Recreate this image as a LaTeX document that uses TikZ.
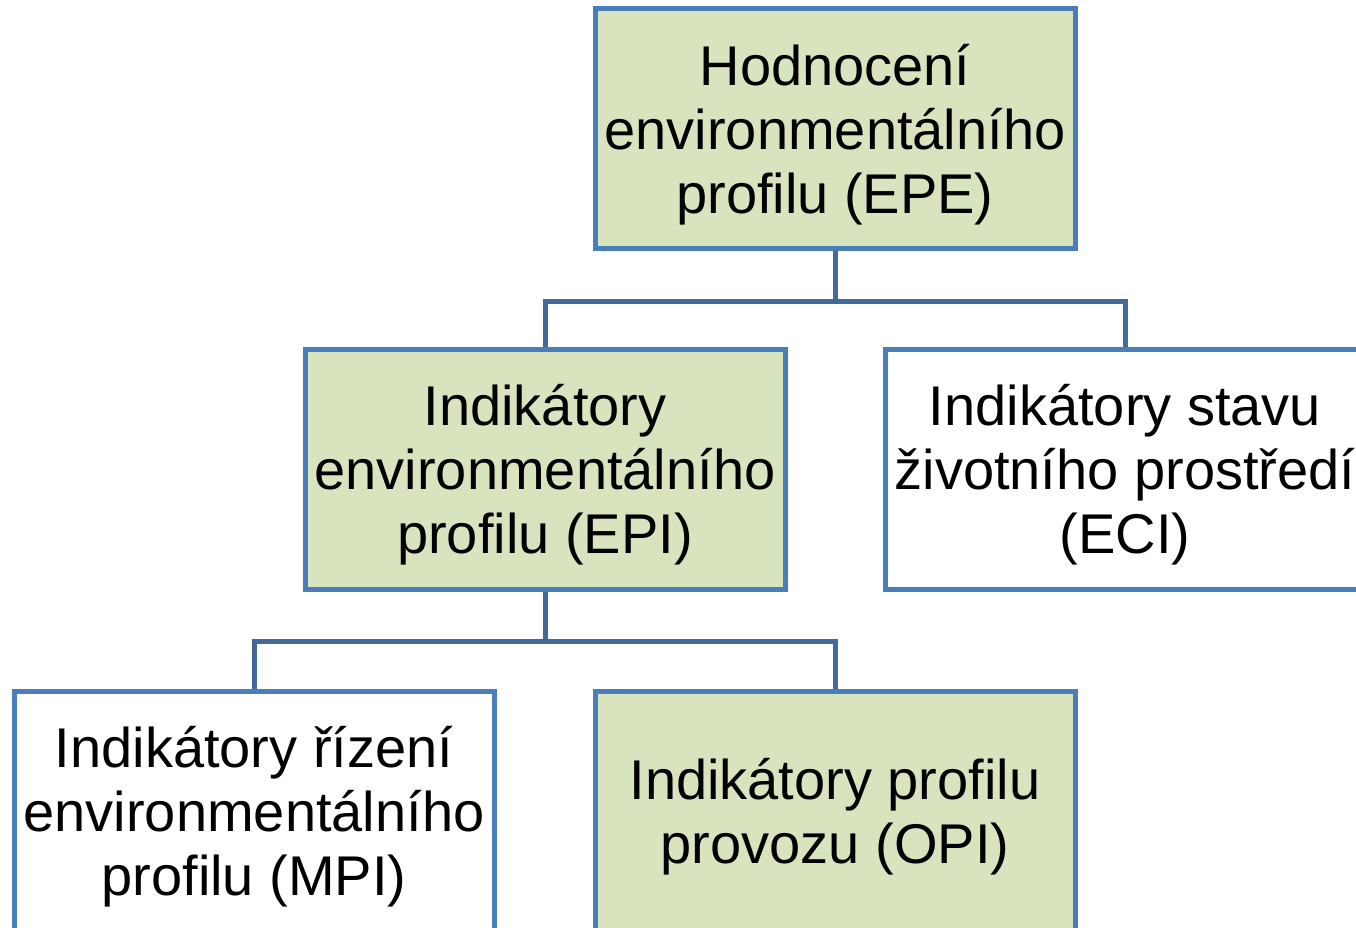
\documentclass[tikz,border=0pt]{standalone}
\usepackage{fontspec}
\setmainfont{Liberation Sans}
\definecolor{boxgreen}{HTML}{D7E4BD}
\definecolor{boxblue}{HTML}{4A7EBB}
\definecolor{connblue}{HTML}{41699A}
\begin{document}
\begin{tikzpicture}[x=1pt,y=-1pt,
  box/.style={draw=boxblue, line width=5pt, minimum width=480pt, minimum height=240pt,
    inner sep=0pt},
  greenbox/.style={box, fill=boxgreen},
  whitebox/.style={box, fill=white},
  txt/.style={inner sep=0pt, align=center, font=\fontsize{56}{64}\selectfont},
  conn/.style={draw=connblue, line width=5pt}]
\useasboundingbox (0,0) rectangle (1356,928);
\node[greenbox] (epe) at (835,128.5) {};
\node[greenbox] (epi) at (545,469) {};
\node[whitebox] (eci) at (1125,469) {};
\node[whitebox] (mpi) at (254,811) {};
\node[greenbox] (opi) at (835,811) {};
\node[txt] (epet) at ([yshift=-6pt]epe.center) {Hodnocení\\environmentálního\\profilu (EPE)};
\node[txt] (epit) at ([yshift=-6pt]epi.center) {Indikátory\\environmentálního\\profilu (EPI)};
\node[txt] (ecit) at ([yshift=-6pt]eci.center) {Indikátory stavu\\životního prostředí\\(ECI)};
\node[txt] (mpit) at ([yshift=-6pt]mpi.center) {Indikátory řízení\\environmentálního\\profilu (MPI)};
\node[txt] (opit) at ([yshift=-6pt]opi.center) {Indikátory profilu\\provozu (OPI)};
\draw[conn] (epe.south) -- ++(0,50) coordinate (j1);
\draw[conn] (j1) -| (epi.north);
\draw[conn] (j1) -| (eci.north);
\draw[conn] (epi.south) -- ++(0,50) coordinate (j2);
\draw[conn] (j2) -| (mpi.north);
\draw[conn] (j2) -| (opi.north);
\end{tikzpicture}
\end{document}
